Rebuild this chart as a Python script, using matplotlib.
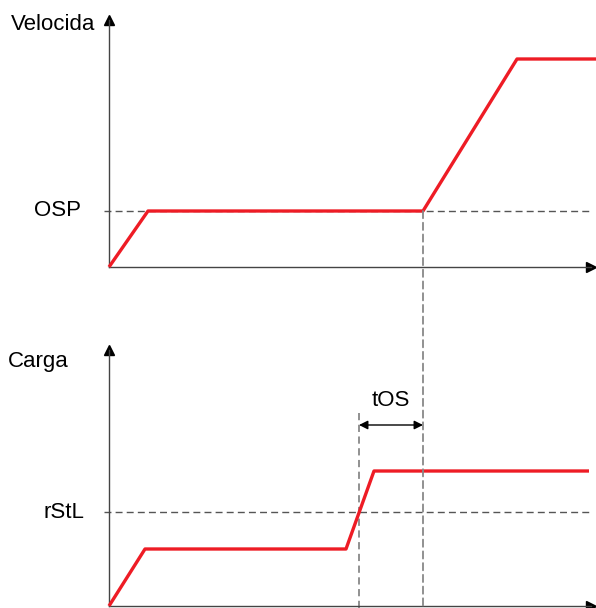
import matplotlib.pyplot as plt
from matplotlib.patches import ConnectionPatch

# time axis in arbitrary units (shared by both panels)
t_speed = [0.0, 3.9, 31.4, 40.8, 48.7]
speed = [0.0, 5.6, 5.6, 20.8, 20.8]
osp_level = 5.6

t_load = [0.0, 3.6, 23.7, 26.5, 48.0]
load = [0.0, 5.7, 5.7, 13.5, 13.5]
rstl_level = 9.4

t_os_start = 25.0
t_os_end = 31.4

RED = "#ee1c25"
AXC = "#444444"

plt.rcParams['font.family'] = ["Liberation Sans", "DejaVu Sans"]
plt.rcParams['font.size'] = 16

W, H = 596, 608
fig = plt.figure(figsize=(W / 100, H / 100), dpi=100)


def make_axes(left, right, top, bottom, ymax):
    ax = fig.add_axes([left / W, 1 - bottom / H, (right - left) / W, (bottom - top) / H])
    ax.set_xlim(0, (right - left) / 10)
    ax.set_ylim(0, ymax)
    for s in ["top", "right"]:
        ax.spines[s].set_visible(False)
    for s in ["left", "bottom"]:
        ax.spines[s].set_color(AXC)
        ax.spines[s].set_linewidth(1.0)
    ax.set_xticks([])
    ax.set_yticks([])
    ax.patch.set_alpha(0)
    ax.plot(1, 0, ">", color="black", ms=7, transform=ax.transAxes, clip_on=False)
    ax.plot(0, 1, "^", color="black", ms=7, transform=ax.transAxes, clip_on=False)
    return ax


ax1 = make_axes(109, 591, 20, 267, 24.7)
ax2 = make_axes(109, 591, 350, 606, 25.6)

# top: speed
ax1.plot([-0.5, 48.0], [osp_level, osp_level], color="#555555", lw=1, dashes=(5, 3), clip_on=False)
ax1.plot(t_speed, speed, color=RED, lw=2.4, clip_on=False, solid_capstyle="butt", zorder=3)
fig.text(11 / W, 1 - 25 / H, "Velocida", ha="left", va="center")
ax1.text(-2.8, osp_level, "OSP", ha="right", va="center", clip_on=False)

# bottom: load
ax2.plot([-0.5, 48.1], [rstl_level, rstl_level], color="#555555", lw=1, dashes=(5, 3), clip_on=False)
ax2.plot(t_load, load, color=RED, lw=2.4, clip_on=False, solid_capstyle="butt", zorder=3)
fig.text(8 / W, 1 - 362 / H, "Carga", ha="left", va="center")
ax2.text(-2.5, rstl_level, "rStL", ha="right", va="center", clip_on=False)

# tOS markers
ax2.plot([t_os_start, t_os_start], [19.3, -0.2], color="#888888", lw=1.3, dashes=(4, 2.5), clip_on=False)
con = ConnectionPatch(xyA=(t_os_end, osp_level), coordsA=ax1.transData,
                      xyB=(t_os_end, -0.2), coordsB=ax2.transData,
                      color="#888888", lw=1.3, linestyle=(0, (4, 2.5)))
fig.add_artist(con)
ax2.annotate("", xy=(t_os_start, 18.1), xytext=(t_os_end, 18.1),
             arrowprops=dict(arrowstyle="<|-|>", color="black", lw=1, mutation_scale=13,
                             shrinkA=0, shrinkB=0))
ax2.text((t_os_start + t_os_end) / 2, 20.6, "tOS", ha="center", va="center")

fig.savefig("out.png", dpi=100)
